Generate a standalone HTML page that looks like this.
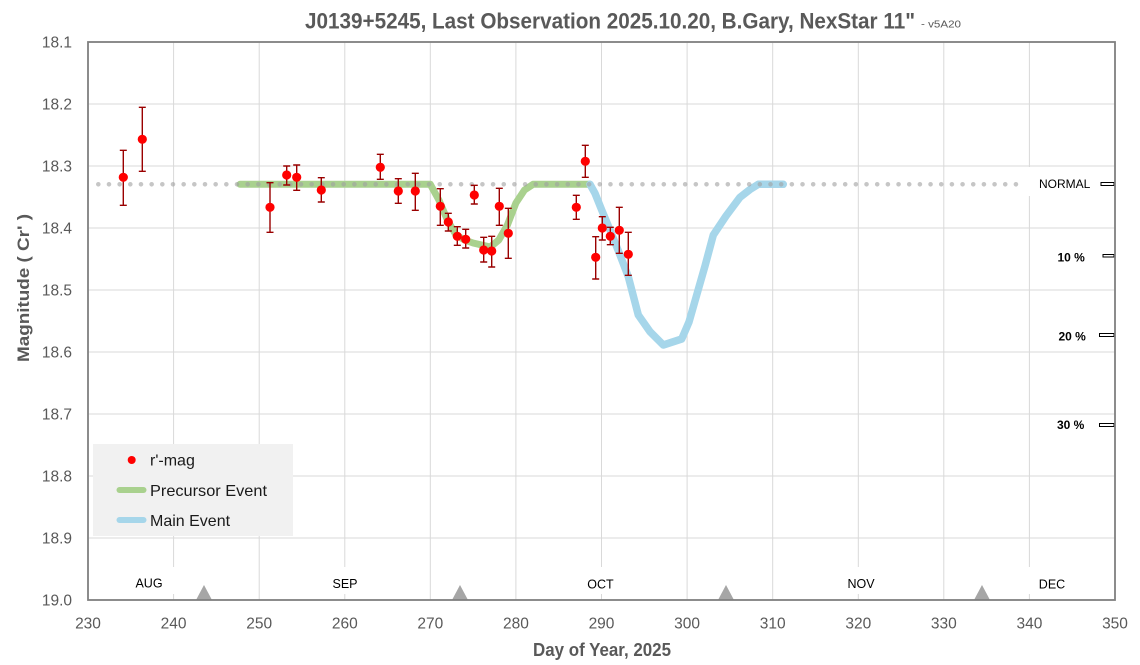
<!DOCTYPE html>
<html><head><meta charset="utf-8"><style>
html,body{margin:0;padding:0;background:#fff;}
svg{display:block;}
text{font-family:"Liberation Sans",sans-serif;}
</style></head><body>
<svg width="1140" height="665" viewBox="0 0 1140 665" xmlns="http://www.w3.org/2000/svg">
<rect x="0" y="0" width="1140" height="665" fill="#fff"/>
<!-- gridlines -->
<g stroke="#d9d9d9" stroke-width="1">
<line x1="173.6" y1="42" x2="173.6" y2="600"/>
<line x1="259.2" y1="42" x2="259.2" y2="600"/>
<line x1="344.8" y1="42" x2="344.8" y2="600"/>
<line x1="430.3" y1="42" x2="430.3" y2="600"/>
<line x1="515.9" y1="42" x2="515.9" y2="600"/>
<line x1="601.5" y1="42" x2="601.5" y2="600"/>
<line x1="687.1" y1="42" x2="687.1" y2="600"/>
<line x1="772.7" y1="42" x2="772.7" y2="600"/>
<line x1="858.3" y1="42" x2="858.3" y2="600"/>
<line x1="943.8" y1="42" x2="943.8" y2="600"/>
<line x1="1029.4" y1="42" x2="1029.4" y2="600"/>
<line x1="88" y1="104" x2="1115" y2="104"/>
<line x1="88" y1="166" x2="1115" y2="166"/>
<line x1="88" y1="228" x2="1115" y2="228"/>
<line x1="88" y1="290" x2="1115" y2="290"/>
<line x1="88" y1="352" x2="1115" y2="352"/>
<line x1="88" y1="414" x2="1115" y2="414"/>
<line x1="88" y1="476" x2="1115" y2="476"/>
<line x1="88" y1="538" x2="1115" y2="538"/>
</g>
<!-- month label boxes -->
<g fill="#fff">
<rect x="128" y="567" width="52" height="27"/>
<rect x="325" y="567" width="40" height="27"/>
<rect x="580" y="567" width="42" height="27"/>
<rect x="840" y="567" width="42" height="27"/>
<rect x="1027" y="567" width="50" height="27"/>
</g>
<g font-size="12.5" fill="#000" text-anchor="middle">
<text x="149" y="587.5">AUG</text>
<text x="345" y="588">SEP</text>
<text x="600.5" y="588.5">OCT</text>
<text x="861" y="588">NOV</text>
<text x="1052" y="588.5">DEC</text>
</g>
<!-- triangles -->
<g fill="#a6a6a6">
<polygon points="196,600 204,585 212,600"/>
<polygon points="452,600 460,585 468,600"/>
<polygon points="718,600 726,585 734,600"/>
<polygon points="974,600 982,585 990,600"/>
</g>
<!-- curves -->
<polyline fill="none" stroke="#a9d18e" stroke-width="7" stroke-linecap="round" stroke-linejoin="round"
 points="240,184.3 430.3,184.3 438.9,200 447.4,220 456,235 464.6,240 473.1,243 481.7,245 490.3,247 498.8,240 507.4,225 515.9,203 524.5,190 533.1,184.3 590,184.3"/>
<polyline fill="none" stroke="#a6d6ea" stroke-width="7.5" stroke-linecap="round" stroke-linejoin="round"
 points="590,184.3 595,193.3 601.7,210 610,230 620,255 628.3,276.7 638.3,315 650,331.7 663.3,345 681.7,339 689,322 696.7,295 705,266 713.3,235 726,216 740,197.3 750,189.5 758.3,184.3 783.3,184.3"/>
<!-- normal dotted line -->
<line x1="98.3" y1="184.3" x2="1026" y2="184.3" stroke="#a0a0a0" stroke-opacity="0.6" stroke-width="4.6" stroke-linecap="round" stroke-dasharray="0 10.67"/>
<rect x="1028" y="167" width="68" height="29" fill="#fff"/>
<text x="1039" y="188" font-size="12" fill="#000">NORMAL</text>
<g font-size="12" font-weight="bold" fill="#000">
<text x="1057.5" y="261.5">10 %</text>
<text x="1058.5" y="340.5">20 %</text>
<text x="1057" y="429">30 %</text>
</g>
<g fill="#fff" stroke="#000" stroke-width="1">
<rect x="1101" y="182.5" width="13" height="3"/>
<rect x="1103" y="254.5" width="11" height="2.5"/>
<rect x="1099.5" y="333.5" width="14.5" height="3"/>
<rect x="1099.5" y="423.5" width="14.5" height="3"/>
</g>
<!-- error bars -->
<g stroke="#9a0000" stroke-width="1.4" fill="none">
<path d="M123.3 150.3V205.3M119.8 150.3H126.8M119.8 205.3H126.8"/>
<path d="M142.3 107.3V171.3M138.8 107.3H145.8M138.8 171.3H145.8"/>
<path d="M270 182.7V232.3M266.5 182.7H273.5M266.5 232.3H273.5"/>
<path d="M286.7 166V185M283.2 166H290.2M283.2 185H290.2"/>
<path d="M296.7 165V190.3M293.2 165H300.2M293.2 190.3H300.2"/>
<path d="M321.3 177.7V202M317.8 177.7H324.8M317.8 202H324.8"/>
<path d="M380.3 154.3V179.3M376.8 154.3H383.8M376.8 179.3H383.8"/>
<path d="M398.3 178.7V203.3M394.8 178.7H401.8M394.8 203.3H401.8"/>
<path d="M415.3 173.3V210.3M411.8 173.3H418.8M411.8 210.3H418.8"/>
<path d="M440.3 188.7V225.3M436.8 188.7H443.8M436.8 225.3H443.8"/>
<path d="M448.3 213.3V231M444.8 213.3H451.8M444.8 231H451.8"/>
<path d="M457.3 226.7V245.3M453.8 226.7H460.8M453.8 245.3H460.8"/>
<path d="M465.7 229.3V248M462.2 229.3H469.2M462.2 248H469.2"/>
<path d="M474.3 185.3V204M470.8 185.3H477.8M470.8 204H477.8"/>
<path d="M483.7 237.3V262M480.2 237.3H487.2M480.2 262H487.2"/>
<path d="M491.7 236.3V267M488.2 236.3H495.2M488.2 267H495.2"/>
<path d="M499.3 188.3V225.3M495.8 188.3H502.8M495.8 225.3H502.8"/>
<path d="M508.3 208.3V258.3M504.8 208.3H511.8M504.8 258.3H511.8"/>
<path d="M576.3 195.3V219.3M572.8 195.3H579.8M572.8 219.3H579.8"/>
<path d="M585.3 145.3V177.3M581.8 145.3H588.8M581.8 177.3H588.8"/>
<path d="M595.7 236.7V279M592.2 236.7H599.2M592.2 279H599.2"/>
<path d="M602.3 216.7V240M598.8 216.7H605.8M598.8 240H605.8"/>
<path d="M610.3 227.3V244.7M606.8 227.3H613.8M606.8 244.7H613.8"/>
<path d="M619.3 207.3V253.3M615.8 207.3H622.8M615.8 253.3H622.8"/>
<path d="M628.3 232.3V275.3M624.8 232.3H631.8M624.8 275.3H631.8"/>
</g>
<!-- dots -->
<g fill="#ff0000">
<circle cx="123.3" cy="177.3" r="4.6"/>
<circle cx="142.3" cy="139.3" r="4.6"/>
<circle cx="270" cy="207.3" r="4.6"/>
<circle cx="286.7" cy="175" r="4.6"/>
<circle cx="296.7" cy="177.3" r="4.6"/>
<circle cx="321.3" cy="190" r="4.6"/>
<circle cx="380.3" cy="167.3" r="4.6"/>
<circle cx="398.3" cy="191" r="4.6"/>
<circle cx="415.3" cy="191" r="4.6"/>
<circle cx="440.3" cy="206.3" r="4.6"/>
<circle cx="448.3" cy="222" r="4.6"/>
<circle cx="457.3" cy="236.3" r="4.6"/>
<circle cx="465.7" cy="239.3" r="4.6"/>
<circle cx="474.3" cy="195" r="4.6"/>
<circle cx="483.7" cy="250" r="4.6"/>
<circle cx="491.7" cy="251" r="4.6"/>
<circle cx="499.3" cy="206.3" r="4.6"/>
<circle cx="508.3" cy="233.3" r="4.6"/>
<circle cx="576.3" cy="207.3" r="4.6"/>
<circle cx="585.3" cy="161.3" r="4.6"/>
<circle cx="595.7" cy="257.3" r="4.6"/>
<circle cx="602.3" cy="228" r="4.6"/>
<circle cx="610.3" cy="236.3" r="4.6"/>
<circle cx="619.3" cy="230.3" r="4.6"/>
<circle cx="628.3" cy="254.3" r="4.6"/>
</g>
<!-- legend -->
<rect x="93" y="444" width="200" height="92" fill="#f1f1f1"/>
<circle cx="131.7" cy="460" r="4" fill="#ff0000"/>
<line x1="119.5" y1="490" x2="143.5" y2="490" stroke="#a9d18e" stroke-width="6" stroke-linecap="round"/>
<line x1="119.5" y1="520" x2="143.5" y2="520" stroke="#a6d6ea" stroke-width="6" stroke-linecap="round"/>
<g font-size="16" fill="#1a1a1a">
<text x="150" y="465.5">r'-mag</text>
<text x="150" y="496" textLength="117" lengthAdjust="spacingAndGlyphs">Precursor Event</text>
<text x="150" y="526">Main Event</text>
</g>
<!-- border -->
<rect x="88" y="42" width="1027" height="558" fill="none" stroke="#808080" stroke-width="1.8"/>
<!-- y tick labels -->
<g font-size="15.5" fill="#595959" text-anchor="end">
<text x="72" y="47.5">18.1</text>
<text x="72" y="109.5">18.2</text>
<text x="72" y="171.5">18.3</text>
<text x="72" y="233.5">18.4</text>
<text x="72" y="295.5">18.5</text>
<text x="72" y="357.5">18.6</text>
<text x="72" y="419.5">18.7</text>
<text x="72" y="481.5">18.8</text>
<text x="72" y="543.5">18.9</text>
<text x="72" y="605.5">19.0</text>
</g>
<!-- x tick labels -->
<g font-size="15.5" fill="#595959" text-anchor="middle">
<text x="88" y="628.5">230</text>
<text x="173.6" y="628.5">240</text>
<text x="259.2" y="628.5">250</text>
<text x="344.8" y="628.5">260</text>
<text x="430.3" y="628.5">270</text>
<text x="515.9" y="628.5">280</text>
<text x="601.5" y="628.5">290</text>
<text x="687.1" y="628.5">300</text>
<text x="772.7" y="628.5">310</text>
<text x="858.3" y="628.5">320</text>
<text x="943.8" y="628.5">330</text>
<text x="1029.4" y="628.5">340</text>
<text x="1115" y="628.5">350</text>
</g>
<!-- titles -->
<text x="305" y="28.3" font-size="22" font-weight="bold" fill="#595959" textLength="610" lengthAdjust="spacingAndGlyphs">J0139+5245, Last Observation 2025.10.20, B.Gary, NexStar 11"</text>
<text x="921" y="27.5" font-size="10" fill="#595959" textLength="40" lengthAdjust="spacingAndGlyphs">- v5A20</text>
<text x="533" y="656" font-size="18" font-weight="bold" fill="#595959" textLength="138" lengthAdjust="spacingAndGlyphs">Day of Year, 2025</text>
<text transform="translate(29,288) rotate(-90)" x="0" y="0" text-anchor="middle" font-size="17" font-weight="bold" fill="#595959" textLength="148" lengthAdjust="spacingAndGlyphs">Magnitude ( Cr' )</text>
</svg>
</body></html>
